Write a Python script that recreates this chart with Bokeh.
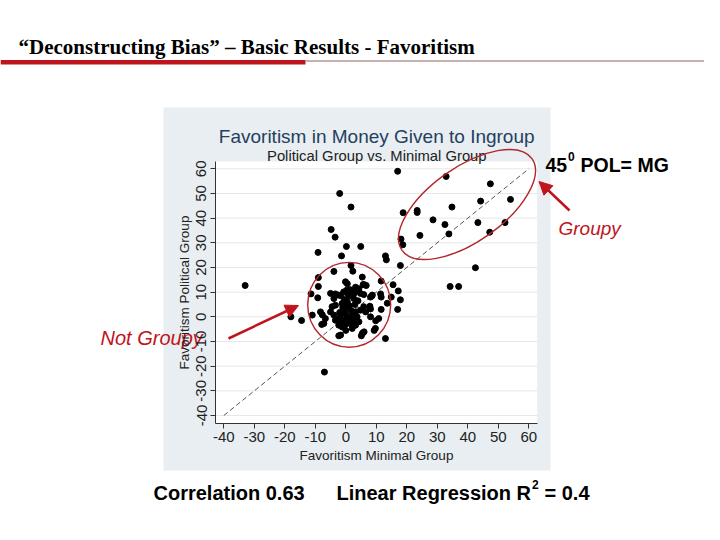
import numpy as np
from bokeh.plotting import figure
from bokeh.models import Range1d, LinearAxis, FixedTicker, Arrow, NormalHead
from bokeh.core.properties import value
from bokeh.embed import file_html
from bokeh.resources import INLINE

# ---------------- data ----------------
favoritism_minimal = [
    -33, -18, -14.5, -7, -2, 1.7, 17, -4.8, -3.5, -9.1, 0.2, 4.9, -1.4, 1.7, 13, 13.3, 17.9, 18.1, 18.7, 18.8,
    23.4, 23.4, 28.6, 32.9, 32.5, 34.8, 33.8, 24.3, 44.2, 47.4, 43.3, 47.2, 54, 52.2, 42.5, 34.2, 37,
    11.6, 15.5, 17.2, 17.9, 17, 14.9, 13.6, 11.4, 11.6, 11.6, 13, 9.3, 9.8, 7.9, 8.1, 8.5,
    5.4, 6.1, 2.3, -3.9, -9, -9, -11.4, -9.2, -11, -7.7, -7.9, -2.3, 0, 5.1, 5.6,
    -0.1, 0.5, 5.7, -0.7, 0.5, 3.7, 4.8, -2.3, 2.6, 8.7, -4.5, -3.4, -1.2, 0.5, -0.7, -0.1, -1.7, 0.5, -0.7, 1,
    1.5, -5, -3.9, -3.4, 3.2, 3.7, 2.6, 4.3, 5.9, 6.5, 4.8, -8.3, -6.7, -7.2, -2.3, -1.2, 2.1, 3.2, 5.4, 6,
    9.7, 10.8, 8.1, -1.7, -3.9, -5, 4.3, 3.2, 6.7, -3.4, -1.7, 2.8, 5.9, 8.1,
    0, 1.2, -0.5, 1.8, -2.5, 2.2, 0, -1, 1, -2, 3, 0.8, -0.3, 1.4, -1.5, 2.5, 4, 0.3,
]
favoritism_political = [
    12.7, 0, -1.5, -22.4, 50, 44.5, 59, 35.4, 32.3, 26.1, 28.5, 28.5, 24.7, 20.8, 24.7, 23.1, 20.8, 31.5, 29.2, 42.2,
    43.1, 42.3, 39.3, 56.9, 37.4, 44.5, 33.6, 33, 46.9, 53.9, 38.2, 34.3, 47.6, 38.2, 19.9, 12.3, 12.3,
    14.5, 13, 10.5, 6.9, 3, 8, 5.5, 9.3, 8, 3, -8.8, -5.5, -1.6, 4.3, 3.2, 8.4,
    16.1, 13, 18.5, 18.4, 15.9, 12.3, 9.3, 7.7, 0.7, 0.8, -3.1, -7.7, -5.5, -7.7, -6.5,
    14.2, 13.4, 13.1, 10.1, 9.5, 10.8, 9.5, 8.8, 7.4, 8.8, 4.1, 4.7, 5.4, 6.1, 2.7, 1.3, 0.7, 0, -1.4, -1.4,
    -2.7, 2, 0.7, -1.4, 2, 0, -0.7, -2, 4.1, 2, 2.7, 2, -0.7, -2.7, -3.4, -4.1, -4.7, -3.4, -6.8, -6.1,
    -4.7, -0.7, 0, -7.4, 7.4, 9.5, 11.4, 12, 12.7, 9.3, 8.6, 9.6, 9, 8,
    3.5, 4.5, 7, 2.5, -1, 0.8, -3, 3.8, 8.5, 1.8, 5, -2.2, 4.8, 11, -2.5, -2, 6.5, 10.8,
]
axis_ticks = [-40, -30, -20, -10, 0, 10, 20, 30, 40, 50, 60]
tick_labels = ["-40", "-30", "-20", "-10", "0", "10", "20", "30", "40", "50", "60"]
diagonal = [-40, 60]          # 45 degree line POL = MG

slide_title = "\u201cDeconstructing Bias\u201d \u2013 Basic Results - Favoritism"
chart_title = "Favoritism in Money Given to Ingroup"
chart_subtitle = "Political Group vs. Minimal Group"
x_label = "Favoritism Minimal Group"
y_label = "Favoritism Political Group"

# ---------------- layout helpers ----------------
W, H = 704, 524
X_PX0, X_PPU = 223.3, 3.05     # picture px of x=-40, px per unit
Y_PX0, Y_PPU = 168.3, 2.467    # picture px of y=60, px per unit


def dx(px):
    return -40 + (px - X_PX0) / X_PPU


def dy(py):
    return 60 - (py - Y_PX0) / Y_PPU


RED = "#c0141c"
ERED = "#b3262c"
FONT = "Liberation Sans"

p = figure(width=W, height=H, output_backend="svg", toolbar_location=None,
           x_range=Range1d(dx(0), dx(W)), y_range=Range1d(dy(H), dy(0)),
           x_axis_location=None, y_axis_location=None, min_border=0,
           outline_line_color=None, background_fill_color="white", border_fill_color="white")
p.xgrid.visible = False
p.ygrid.visible = False

# Stata graph region and plot region
p.quad(left=dx(163), right=dx(550), top=dy(107), bottom=dy(470), fill_color="#e8eef1", line_color=None)
PL, PR, PT, PB = dx(215), dx(536.7), dy(161), dy(422.7)
p.quad(left=PL, right=PR, top=PT, bottom=PB, fill_color="white", line_color=None)
p.segment(x0=[PL] * len(axis_ticks), y0=axis_ticks, x1=[PR] * len(axis_ticks), y1=axis_ticks,
          line_color="#e3e9ec", line_width=1)

# axes
overrides = dict(zip(axis_ticks, tick_labels))
xaxis = LinearAxis(fixed_location=PB, bounds=(PL, PR), ticker=FixedTicker(ticks=axis_ticks),
                   axis_label=x_label, major_label_overrides=overrides)
yaxis = LinearAxis(fixed_location=PL, bounds=(PB, PT), ticker=FixedTicker(ticks=axis_ticks),
                   axis_label=y_label, major_label_orientation="vertical", major_label_overrides=overrides)
for ax in (xaxis, yaxis):
    ax.axis_line_color = "#333333"
    ax.major_tick_line_color = "#333333"
    ax.major_tick_out = 5
    ax.major_tick_in = 0
    ax.minor_tick_out = 0
    ax.minor_tick_in = 0
    ax.major_label_standoff = 4
    ax.major_label_text_font = FONT
    ax.major_label_text_font_size = "15px"
    ax.major_label_text_color = "#222222"
    ax.axis_label_text_font = FONT
    ax.axis_label_text_font_size = "13.5px"
    ax.axis_label_text_font_style = "normal"
    ax.axis_label_text_color = "#222222"
    ax.axis_label_standoff = 2
p.add_layout(xaxis, "below")
p.add_layout(yaxis, "left")

# 45 degree line and data
p.line(diagonal, diagonal, line_color="#555555", line_width=1, line_dash="5 3")
p.scatter(favoritism_minimal, favoritism_political, size=6, color="black")


def txt(px, py, s, size, color="black", style="normal", font=FONT, align="left"):
    p.text(x=[dx(px)], y=[dy(py)], text=[s], text_font=value(font), text_font_size=f"{size}px",
           text_font_style=style, text_color=color, text_align=align, text_baseline="alphabetic")


# chart titles
txt(376.2, 136, chart_title, 19, color="#24405e", align="center")
txt(376.3, 155, chart_subtitle, 14.8, color="#222222", align="center")

# slide title and rule
txt(18, 46, slide_title, 21, style="bold", font="Liberation Serif")
p.quad(left=dx(0), right=dx(305), top=dy(59.5), bottom=dy(64), fill_color=RED, line_color=None)
p.segment(x0=[dx(305)], y0=[dy(60.5)], x1=[dx(W)], y1=[dy(60.5)], line_color="#b89797", line_width=1.5)

# ellipses
p.ellipse(x=[dx(466.5)], y=[dy(204)], width=159, height=74.4, angle=np.radians(35.2),
          width_units="screen", height_units="screen", fill_color=None, line_color=ERED, line_width=1.4)
p.ellipse(x=[dx(348.7)], y=[dy(304.3)], width=83, height=85,
          width_units="screen", height_units="screen", fill_color=None, line_color=ERED, line_width=1.4)

# annotations
txt(545, 164, "45", 19.5, style="bold")
txt(567.5, 156, "0", 12, style="bold")
txt(580, 164, "POL= MG", 19.5, style="bold")
txt(558, 228, "Groupy", 19, color=RED, style="italic")
txt(100, 337, "Not Groupy", 20, color=RED, style="italic")

p.add_layout(Arrow(end=NormalHead(size=13, fill_color=RED, line_color=RED),
                   x_start=dx(569), y_start=dy(210), x_end=dx(538.5), y_end=dy(181),
                   line_color=RED, line_width=2.5))
p.add_layout(Arrow(end=NormalHead(size=13, fill_color=RED, line_color=RED),
                   x_start=dx(228), y_start=dy(338), x_end=dx(298), y_end=dy(305),
                   line_color=RED, line_width=2.5))

# bottom statistics
txt(153, 492, "Correlation 0.63", 20, style="bold")
txt(336, 492, "Linear Regression R", 20, style="bold")
txt(531.5, 484, "2", 12, style="bold")
txt(544, 492, "= 0.4", 20, style="bold")

open("out.html", "w").write(file_html(p, INLINE))
